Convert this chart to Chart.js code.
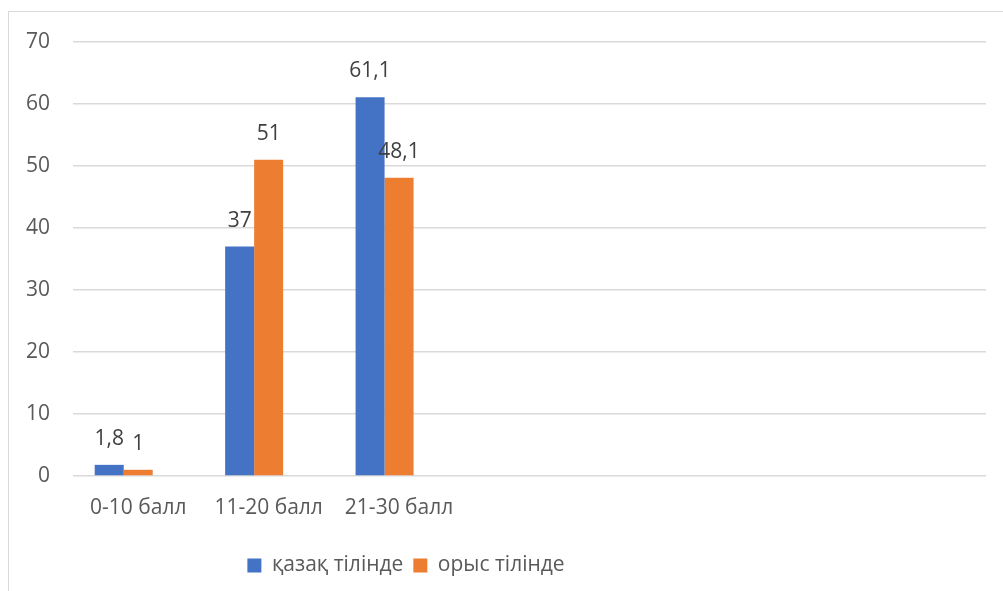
<!DOCTYPE html>
<html>
<head>
<meta charset="utf-8">
<script src="https://cdn.jsdelivr.net/npm/chart.js@4"></script>
<style>
  body { margin: 0; background: #fff; }
  #wrap { position: relative; width: 1003px; height: 591px; overflow: hidden; }
  #frame { position: absolute; left: 8px; top: 11px; width: 2000px; height: 2000px;
           border-left: 1px solid #d9d9d9; border-top: 1px solid #d9d9d9; }
  canvas { position: absolute; left: 0; top: 0; }
</style>
</head>
<body>
<div id="wrap">
  <div id="frame"></div>
  <canvas id="chart"></canvas>
</div>
<script>
// categories (the last four are empty slots, as in the source chart)
let categories = ["0-10 балл", "11-20 балл", "21-30 балл", "", "", "", ""];
let kazakh = [1.8, 37, 61.1, null, null, null, null];
let russian = [1, 51, 48.1, null, null, null, null];
// the source has a third, empty series that still takes up a bar slot
let emptySeries = [null, null, null, null, null, null, null];
let seriesNames = ["қазақ тілінде", "орыс тілінде", ""];
let yTicks = [0, 10, 20, 30, 40, 50, 60, 70];

let fontName = "'Open Sans', sans-serif";
let fontSize = 21;

function fmt(v){
    return String(v).replace(".", ",");
}

// value labels above each bar
let barLabels = {
    id: "barLabels",
    afterDatasetsDraw(chart){
        let ctx = chart.ctx;
        ctx.save();
        ctx.font = fontSize + "px " + fontName;
        ctx.fillStyle = "#404040";
        ctx.textAlign = "center";
        ctx.textBaseline = "middle";
        chart.data.datasets.forEach(function(ds, i){
            let meta = chart.getDatasetMeta(i);
            meta.data.forEach(function(bar, j){
                if (ds.data[j] === null) return;
                ctx.fillText(fmt(ds.data[j]), bar.x, bar.y - 26);
            });
        });
        ctx.restore();
    }
};

// legend sits left of centre in the original
let moveLegend = {
    id: "moveLegend",
    afterLayout(chart){
        chart.legend.left = 0;
        chart.legend.right = 812;
    }
};

let chart = new Chart(document.getElementById("chart"), {
    type: "bar",
    data: {
        labels: categories,
        datasets: [
            {
                label: seriesNames[0],
                data: kazakh,
                backgroundColor: "#4472C4"
            },
            {
                label: seriesNames[1],
                data: russian,
                backgroundColor: "#ED7D31"
            },
            {
                label: seriesNames[2],
                data: emptySeries,
                backgroundColor: "#A5A5A5"
            }
        ]
    },
    options: {
        responsive: true,
        maintainAspectRatio: false,
        animation: false,
        datasets: {
            bar: { categoryPercentage: 0.667, barPercentage: 1 }
        },
        layout: {
            padding: { left: 0, right: 17, top: 42, bottom: 5 }
        },
        scales: {
            x: {
                grid: { display: false },
                border: { display: false },
                ticks: {
                    padding: 11,
                    color: "#595959",
                    font: { family: fontName, size: fontSize },
                    maxRotation: 0,
                    autoSkip: false
                },
                afterFit: function(s){ s.height = 69; }
            },
            y: {
                min: 0,
                max: 70,
                afterBuildTicks: function(s){
                    s.ticks = yTicks.map(function(v){ return { value: v }; });
                },
                grid: { color: "#d9d9d9", lineWidth: 1.5, drawTicks: false },
                border: { display: false },
                ticks: {
                    padding: 23,
                    color: "#595959",
                    font: { family: fontName, size: fontSize }
                },
                afterFit: function(s){ s.width = 73; }
            }
        },
        plugins: {
            legend: {
                position: "bottom",
                labels: {
                    boxWidth: 14,
                    boxHeight: 14,
                    padding: 10,
                    color: "#595959",
                    font: { family: fontName, size: fontSize },
                    filter: function(item){ return item.text !== ""; }
                }
            },
            tooltip: { enabled: false }
        }
    },
    plugins: [barLabels, moveLegend]
});
</script>
</body>
</html>
